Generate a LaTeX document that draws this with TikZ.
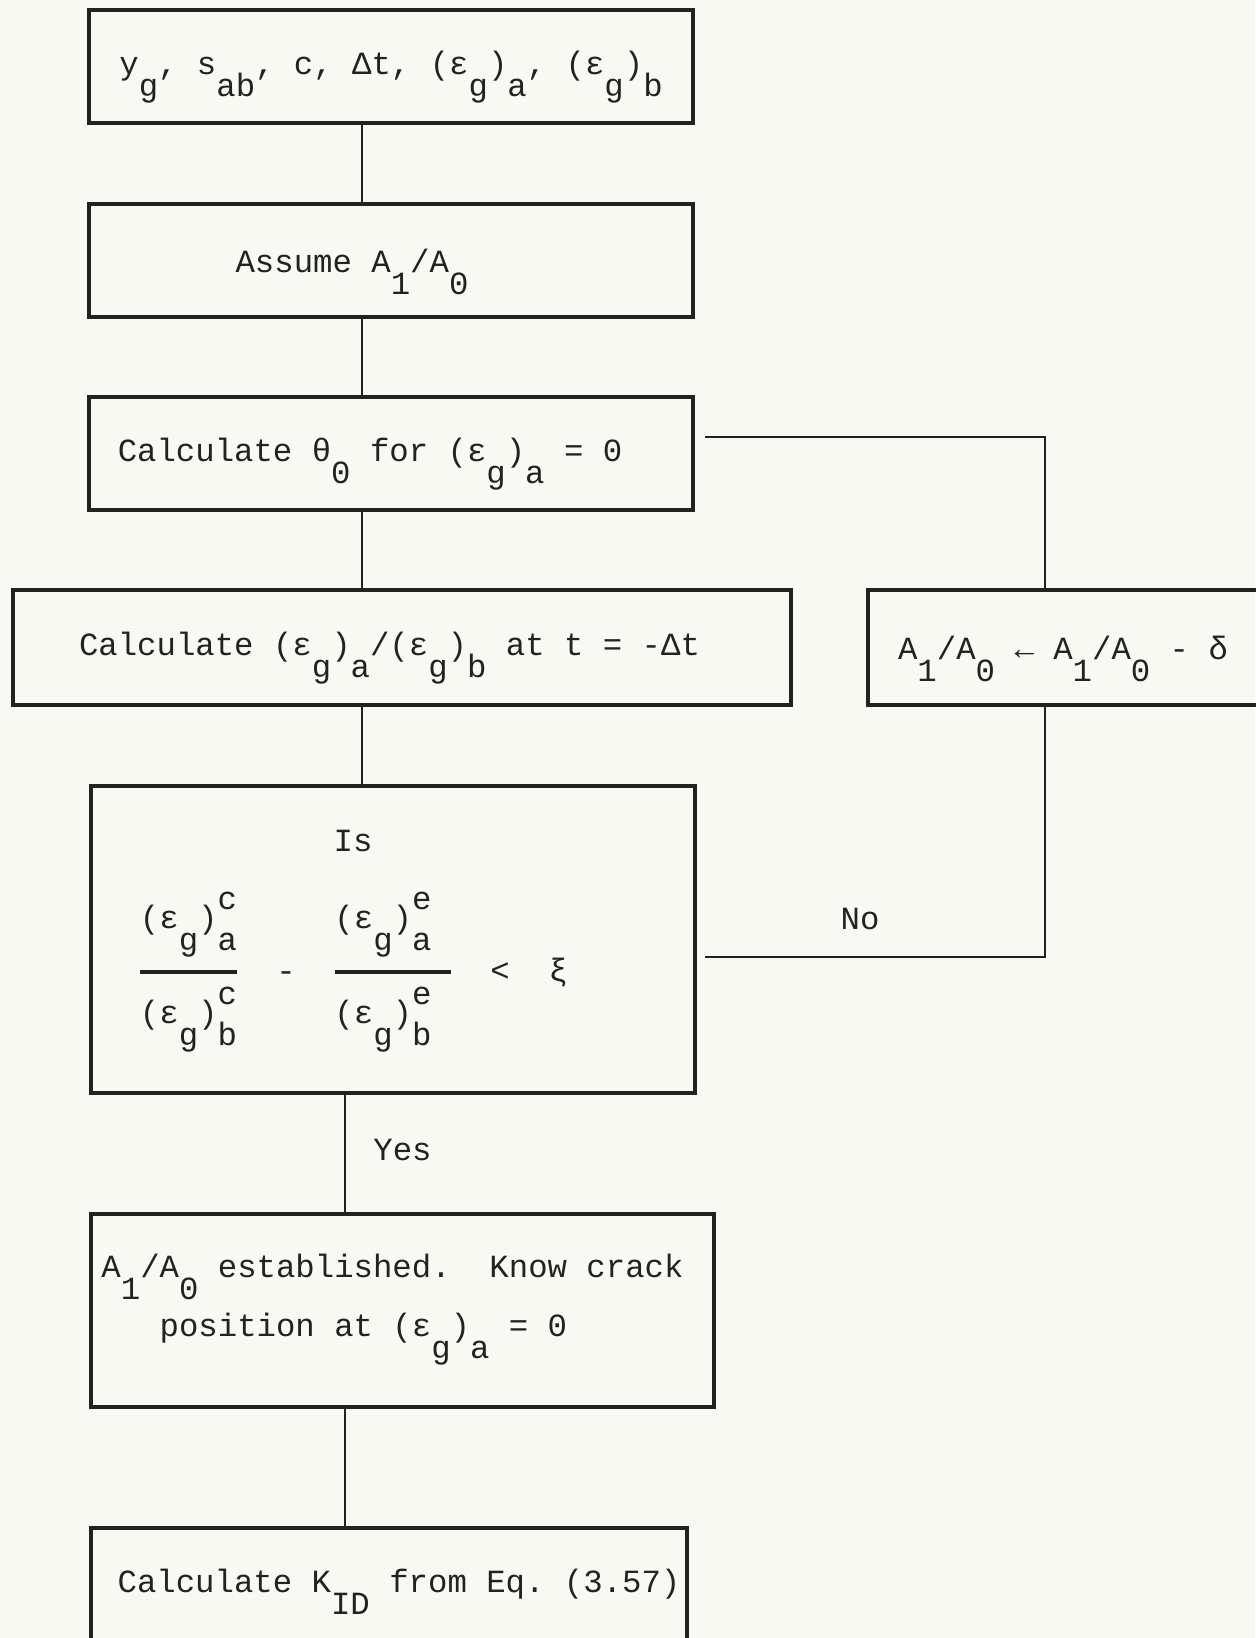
\documentclass[tikz,border=0pt]{standalone}
\usepackage{fontspec}
\setmonofont{Liberation Mono}
\definecolor{Paper}{RGB}{249,249,244}
\definecolor{Ink}{RGB}{34,34,34}
\usetikzlibrary{positioning,calc}
\newcommand{\tsub}[1]{\smash{\raisebox{-0.68em}{#1}}}
\newcommand{\tsupsub}[2]{\makebox[0pt][l]{\smash{\raisebox{0.6em}{#1}}}\smash{\raisebox{-0.66em}{#2}}}

\begin{document}
\begin{tikzpicture}[
  procbox/.style={draw=Ink,line width=1.8pt,outer sep=0pt,inner sep=0pt,text=Ink,minimum height=2.26cm},
  link/.style={draw=Ink,line width=1.5pt},
  lbl/.style={text=Ink,inner sep=0pt},
  fracbar/.style={fill=Ink,inner sep=0pt,minimum height=1.8pt},
  font=\ttfamily\fontsize{18.4}{33.6}\selectfont]
  \fill[Paper] (0,0) rectangle (25.1,32.76);
  \useasboundingbox (0,0) rectangle (25.1,32.76);

  % main column
  \node[procbox,minimum width=12.08cm] (inputs) at (7.82,31.43) {y\tsub{g}, s\tsub{ab}, c, Δt, (ε\tsub{g})\tsub{a}, (ε\tsub{g})\tsub{b}};
  \node[procbox,minimum width=12.08cm,below=1.62cm of inputs] (assume) {Assume A\tsub{1}/A\tsub{0}\hspace{1.56cm}\mbox{}};
  \node[procbox,minimum width=12.08cm,below=1.60cm of assume] (theta) {Calculate θ\tsub{0} for (ε\tsub{g})\tsub{a} = 0\hspace{0.84cm}\mbox{}};
  \node[procbox,minimum width=15.56cm,minimum height=2.3cm,below=1.60cm of theta,xshift=0.22cm] (ratio) {Calculate (ε\tsub{g})\tsub{a}/(ε\tsub{g})\tsub{b} at t = -Δt\hspace{0.5cm}\mbox{}};
  \node[procbox,minimum width=7.8cm,minimum height=2.3cm,right=1.54cm of ratio] (update) {A\tsub{1}/A\tsub{0} ← A\tsub{1}/A\tsub{0} - δ};
  \node[procbox,minimum width=12.08cm,minimum height=6.14cm,below=1.62cm of ratio,xshift=-0.18cm] (test) {};
  \node[procbox,minimum width=12.46cm,minimum height=3.86cm,below=2.42cm of test,xshift=0.19cm,align=left] (found) {A\tsub{1}/A\tsub{0} established.\ \ Know crack\hspace{0.4cm}\mbox{}\\\ \ \ position at (ε\tsub{g})\tsub{a} = 0\rule[-0.59cm]{0pt}{0.59cm}};
  \node[procbox,minimum width=11.92cm,below=2.42cm of found,xshift=-0.27cm] (kid) {\hspace*{0.4cm}Calculate K\tsub{ID} from Eq. (3.57)};

  % test contents
  \node[lbl,anchor=base] (is) at ($(test.north)+(-0.8,-1.32)$) {Is};
  \node[fracbar,minimum width=1.94cm] (bar1) at ($(test.center)+(-4.09,-0.65)$) {};
  \node[fracbar,minimum width=2.32cm] (bar2) at ($(test.center)+(0,-0.65)$) {};
  \node[lbl,above=0.86cm of bar1.center,anchor=base] (num1) {(ε\tsub{g})\tsupsub{c}{a}};
  \node[lbl,below=1.04cm of bar1.center,anchor=base] (den1) {(ε\tsub{g})\tsupsub{c}{b}};
  \node[lbl,above=0.86cm of bar2.center,anchor=base,xshift=-0.2cm] (num2) {(ε\tsub{g})\tsupsub{e}{a}};
  \node[lbl,below=1.04cm of bar2.center,anchor=base,xshift=-0.2cm] (den2) {(ε\tsub{g})\tsupsub{e}{b}};
  \node[lbl,anchor=base] (minus) at ($(test.center)+(-2.14,-0.84)$) {-};
  \node[lbl,anchor=base west] (less) at ($(test.center)+(1.94,-0.84)$) {<\ \ ξ};

  % connectors
  \coordinate (spineA) at (7.24,0);
  \coordinate (spineB) at (6.90,0);
  \coordinate (loopx) at (20.9,0);
  \draw[link] (inputs.south -| spineA) -- (assume.north -| spineA);
  \draw[link] (assume.south -| spineA) -- (theta.north -| spineA);
  \draw[link] (theta.south -| spineA) -- (ratio.north -| spineA);
  \draw[link] (ratio.south -| spineA) -- (test.north -| spineA);
  \draw[link] (test.south -| spineB) -- (found.north -| spineB);
  \draw[link] (found.south -| spineB) -- (kid.north -| spineB);
  \coordinate (loopout) at ($(theta.east)+(0.24,0.33)$);
  \coordinate (loopin) at ($(test.east)+(0.2,-0.35)$);
  \draw[link] (loopout) -| (update.north -| loopx);
  \draw[link] (update.south -| loopx) |- (loopin);

  \node[lbl,anchor=base] (no) at (17.2,14.16) {No};
  \node[lbl,anchor=base] (yes) at (8.05,9.54) {Yes};
\end{tikzpicture}
\end{document}
